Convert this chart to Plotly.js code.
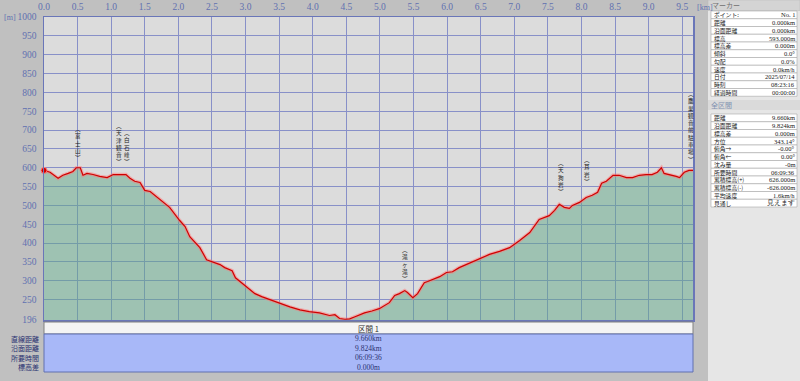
<!DOCTYPE html>
<html><head><meta charset="utf-8">
<script src="https://cdn.plot.ly/plotly-3.0.1.min.js"></script>
<style>html,body{margin:0;padding:0;background:#c0c0c0;}#chart{width:800px;height:381px;}</style>
</head><body><div id="chart"></div>
<script>
// ---- data ----
const distKm = [0.00,0.09,0.21,0.28,0.36,0.43,0.48,0.54,0.58,0.64,0.73,0.83,0.94,1.03,1.10,1.22,1.28,1.35,1.43,1.50,1.58,1.72,1.87,2.02,2.10,2.17,2.32,2.42,2.50,2.62,2.69,2.80,2.85,2.94,3.03,3.14,3.24,3.36,3.51,3.66,3.81,3.95,4.10,4.25,4.33,4.40,4.48,4.55,4.62,4.70,4.77,4.88,4.99,5.14,5.22,5.29,5.37,5.41,5.49,5.56,5.66,5.71,5.78,5.89,5.99,6.08,6.18,6.33,6.48,6.63,6.78,6.93,7.08,7.23,7.37,7.52,7.60,7.67,7.745,7.82,7.865,7.97,8.07,8.16,8.24,8.30,8.37,8.42,8.47,8.56,8.67,8.76,8.86,8.96,9.05,9.13,9.19,9.23,9.31,9.41,9.46,9.53,9.60,9.66];
const elevM = [593,588,572,580,585,590,600,600,580,585,582,577,574,582,582,582,572,564,561,540,537,516,495,460,444,417,388,356,351,343,335,327,308,295,282,266,258,250,242,231,223,218,215,208,210,200,198,199,204,210,215,220,226,242,261,266,274,269,255,266,295,298,303,311,322,324,335,346,359,370,378,388,407,428,463,473,487,503,495,492,500,508,521,527,535,559,564,572,580,580,574,574,580,582,582,588,600,585,582,577,574,588,593,593];
const xTickVals = [0,0.5,1.0,1.5,2.0,2.5,3.0,3.5,4.0,4.5,5.0,5.5,6.0,6.5,7.0,7.5,8.0,8.5,9.0,9.5];
const xTickText = ["0.0","0.5","1.0","1.5","2.0","2.5","3.0","3.5","4.0","4.5","5.0","5.5","6.0","6.5","7.0","7.5","8.0","8.5","9.0","9.5"];
const yTickVals = [196,250,300,350,400,450,500,550,600,650,700,750,800,850,900,950,1000];
const yTickText = ["196","250","300","350","400","450","500","550","600","650","700","750","800","850","900","950","1000"];
const wpNames = ["(富士山)","(天津観音)","(白石峰)","(滝ヶ滝)","(天狗岩)","(耳岩)","(鷹巣観音前駐車場)"];
const wpKm = [0.50,1.11,1.23,5.37,7.70,8.08,9.63];
const markerLabels = ["ポイント:","距離","沿面距離","標高","標高差","傾斜","勾配","速度","日付","時刻","経過時間"];
const markerValues = ["No. 1","0.000km","0.000km","593.000m","0.000m","0.0°","0.0%","0.0km/h","2025/07/14","08:23:16","00:00:00"];
const totalLabels = ["距離","沿面距離","標高差","方位","俯角→","俯角←","沈み量","所要時間","累積標高(+)","累積標高(-)","平均速度","見通し"];
const totalValues = ["9.660km","9.824km","0.000m","343.14°","-0.00°","0.00°","-0m","06:09:36","626.000m","-626.000m","1.6km/h","見えます"];
const sectionLabels = ["直線距離","沿面距離","所要時間","標高差"];
const sectionValues = ["9.660km","9.824km","06:09:36","0.000m"];

// ---- layout helpers ----
const L=44, R=693, T=17, B=320;
const XMAX=9.66;
const px = p => (p-L)/(R-L);
const py = p => (B-p)/(B-T);
const wpBottomPx = [163,167,167,284,197,187,165];
const FONT = '"Noto Sans CJK JP", "Noto Sans", sans-serif';
const SERIF = '"Liberation Serif", "DejaVu Serif", serif';
const shapes = [], ann = [];
function rect(x0,y0,x1,y1,fill,line,lw){
  shapes.push({type:'rect',xref:'paper',yref:'paper',x0:px(x0),x1:px(x1),y0:py(y1),y1:py(y0),
    fillcolor:fill,line:{color:line||fill,width:lw===undefined?1:lw},layer:'above'});
}
function text(x,y,t,opts){
  opts=opts||{};
  const a={xref:'paper',yref:'paper',x:px(x),y:py(y),text:t,showarrow:false,borderpad:0,
    xanchor:opts.xa||'left',yanchor:opts.ya||'middle',align:'center',
    font:{family:opts.family||FONT,size:opts.size||7.5,color:opts.color||'#202020'}};
  ann.push(a);
}

// right panel
rect(708,0,800,381,'#e6e6e6','#e6e6e6',0);
rect(708,0,800,10.5,'#d4d4d4','#b8b8b8',0.5);
text(711,5.2,'マーカー',{color:'#707070',size:7});
const r1Top=11, r1H=7.75;
markerLabels.forEach((lb,i)=>{
  const y0=r1Top+i*r1H;
  rect(711,y0,797,y0+r1H,'#ffffff','#a8a8a8',0.6);
  text(713,y0+r1H/2,lb,{size:5.8});
  text(796,y0+r1H/2,markerValues[i],{xa:'right',size:6.5,family:SERIF});
});
rect(708,100,800,110,'#dadada','#dadada',0);
text(710,105,'全区間',{color:'#8090b0',size:7});
const r2Top=114, r2H=7.75;
totalLabels.forEach((lb,i)=>{
  const y0=r2Top+i*r2H;
  rect(711,y0,797,y0+r2H,'#ffffff','#a8a8a8',0.6);
  text(713,y0+r2H/2,lb,{size:5.8});
  text(796,y0+r2H/2,totalValues[i],{xa:'right',size:6.5,family:SERIF});
});

// bottom section panel
rect(44,322,693,334,'#f4f4f4','#808080',1);
text(368.5,328,'区間 1',{xa:'center',size:7.5,color:'#303030'});
rect(44,334,693,372,'#a8b8f8','#6070b0',1);
sectionValues.forEach((v,i)=>{
  const y=338.5+i*9.5;
  text(368.5,y,v,{xa:'center',size:7.5,color:'#283070',family:SERIF});
  text(40,y,sectionLabels[i],{xa:'right',size:7,color:'#283070'});
});

// units
text(3,17,'[m]',{size:8,color:'#6070b0',family:SERIF});
text(696,7,'[km]',{size:8,color:'#6070b0',family:SERIF});

// waypoint labels: one stacked (vertical) text each
function vert(s){return s.split('').map(c=>c==='('?'︵':(c===')'?'︶':c)).join('<br>');}
wpNames.forEach((n,i)=>{
  const xp = L + wpKm[i]/XMAX*(R-L);
  text(xp, wpBottomPx[i], vert(n), {xa:'center', ya:'bottom', size:5.6, color:'#202020'});
});

const traces=[
  {x:distKm,y:elevM,type:'scatter',mode:'lines',fill:'tozeroy',
   fillcolor:'rgba(96,168,136,0.5)',line:{color:'rgba(255,120,120,0.5)',width:3.5,shape:'linear'},hoverinfo:'skip'},
  {x:distKm,y:elevM,type:'scatter',mode:'lines',line:{color:'#d00000',width:1.2},hoverinfo:'skip'},
  {x:[distKm[0]],y:[elevM[0]],type:'scatter',mode:'markers',
   marker:{color:'#d00000',size:6,symbol:'circle',line:{color:'#ff8080',width:1}},hoverinfo:'skip',cliponaxis:false}
];

const axisFont={family:SERIF,size:9.5,color:'#6070b0'};
const layout={
  width:800,height:381,
  margin:{l:L,r:800-R,t:T,b:381-B,pad:0},
  paper_bgcolor:'#c0c0c0',plot_bgcolor:'#dcdcdc',
  showlegend:false,
  xaxis:{range:[0,XMAX],side:'top',tickmode:'array',tickvals:xTickVals,ticktext:xTickText,
    tickfont:axisFont,gridcolor:'#8890c8',gridwidth:1,showline:true,linecolor:'#6a76b8',linewidth:1.5,
    mirror:true,zeroline:false,ticks:'',ticklabelstandoff:2,fixedrange:true},
  yaxis:{range:[196,1000],tickmode:'array',tickvals:yTickVals,ticktext:yTickText,
    tickfont:axisFont,gridcolor:'#8890c8',gridwidth:1,showline:true,linecolor:'#6a76b8',linewidth:1.5,
    mirror:true,zeroline:false,ticks:'',ticklabelstandoff:4,fixedrange:true},
  shapes:shapes,annotations:ann
};
Plotly.newPlot('chart',traces,layout,{staticPlot:true,displayModeBar:false});
</script></body></html>
